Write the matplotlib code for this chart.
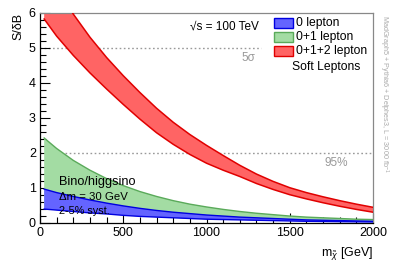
import matplotlib
matplotlib.use("Agg")
import matplotlib.pyplot as plt
from matplotlib.patches import Rectangle
from matplotlib.ticker import MultipleLocator

plt.rcParams['font.family'] = ['Liberation Sans', 'DejaVu Sans']
plt.rcParams['mathtext.fontset'] = 'custom'
plt.rcParams['mathtext.rm'] = 'Liberation Sans'
plt.rcParams['mathtext.it'] = 'Liberation Sans:italic'

# ---- data ----
mass = [25, 100, 200, 300, 400, 500, 600, 700, 800, 900, 1000,
        1100, 1200, 1300, 1400, 1500, 1600, 1700, 1800, 1900, 2000]

red_upper = [7.3, 6.65, 5.96, 5.3, 4.72, 4.2, 3.72, 3.27, 2.87, 2.52, 2.21,
             1.92, 1.64, 1.39, 1.18, 1.0, 0.86, 0.74, 0.63, 0.53, 0.44]
red_lower = [5.82, 5.33, 4.78, 4.28, 3.82, 3.38, 2.96, 2.57, 2.24, 1.95, 1.7,
             1.5, 1.32, 1.12, 0.95, 0.8, 0.68, 0.57, 0.47, 0.38, 0.30]

green_upper = [2.42, 2.12, 1.78, 1.5, 1.26, 1.06, 0.89, 0.75, 0.63, 0.53, 0.45,
               0.38, 0.32, 0.27, 0.23, 0.19, 0.16, 0.14, 0.12, 0.10, 0.09]
blue_upper = [0.96, 0.86, 0.75, 0.65, 0.56, 0.48, 0.41, 0.35, 0.30, 0.26, 0.22,
              0.19, 0.16, 0.14, 0.12, 0.10, 0.08, 0.07, 0.06, 0.05, 0.04]
blue_lower = [0.39, 0.36, 0.32, 0.28, 0.25, 0.21, 0.18, 0.16, 0.14, 0.12, 0.10,
              0.09, 0.08, 0.07, 0.06, 0.05, 0.04, 0.035, 0.03, 0.025, 0.02]

legend_labels = ['0 lepton', '0+1 lepton', '0+1+2 lepton']
sigma5_level = 5
sigma5_end = 1330
cl95_level = 2

# ---- figure ----
W, H = 394, 267
fig = plt.figure(figsize=(W / 100, H / 100), dpi=100)
def fx(x): return x / W
def fy(y): return 1 - y / H

ax = fig.add_axes([fx(40), fy(222.7), fx(373) - fx(40), fy(12.7) - fy(222.7)])
ax.set_xlim(0, 2000)
ax.set_ylim(0, 6)

c_red_f, c_red_e = '#ff6464', '#e00000'
c_grn_f, c_grn_e = '#a3dca3', '#5aaa5a'
c_blu_f, c_blu_e = '#6464ff', '#0000e0'

# bands
ax.fill_between(mass, red_lower, red_upper, facecolor=c_red_f, edgecolor='none', zorder=2)
ax.plot(mass, red_upper, color=c_red_e, lw=1.1, zorder=3)
ax.plot(mass, red_lower, color=c_red_e, lw=1.1, zorder=3)

ax.fill_between(mass, blue_lower, green_upper, facecolor=c_grn_f, edgecolor='none', zorder=2)
ax.plot(mass, green_upper, color=c_grn_e, lw=1.0, zorder=3)

ax.fill_between(mass, blue_lower, blue_upper, facecolor=c_blu_f, edgecolor='none', zorder=4)
ax.plot(mass, blue_upper, color=c_blu_e, lw=1.0, zorder=5)
ax.plot(mass, blue_lower, color=c_blu_e, lw=1.0, zorder=5)

# reference lines
ax.plot([0, sigma5_end], [sigma5_level, sigma5_level], color='#999999', lw=1.0,
        ls=(0, (1.2, 1.8)), zorder=1)
ax.plot([0, 2000], [cl95_level, cl95_level], color='#999999', lw=1.0,
        ls=(0, (1.2, 1.8)), zorder=1)

# axes style
for s in ['top', 'right']:
    ax.spines[s].set_color('#888888')
for s in ['left', 'bottom']:
    ax.spines[s].set_color('black')
for s in ax.spines.values():
    s.set_linewidth(0.9)
ax.xaxis.set_major_locator(MultipleLocator(500))
ax.xaxis.set_minor_locator(MultipleLocator(100))
ax.yaxis.set_major_locator(MultipleLocator(1))
ax.yaxis.set_minor_locator(MultipleLocator(0.2))
ax.tick_params(which='both', direction='in', top=False, right=False, labelsize=9)
ax.tick_params(which='major', length=7, width=0.8)
ax.tick_params(which='minor', length=4, width=0.8)
ax.tick_params(axis='y', pad=3)
ax.tick_params(axis='x', pad=3)

# axis titles
fig.text(fx(373), fy(253), r'm$_{\tilde{\chi}}$ [GeV]', ha='right', va='center', fontsize=9)
fig.text(fx(18), fy(12.5), 'S/δB', rotation=90, ha='center', va='top', fontsize=9)

# annotations
fig.text(fx(190), fy(27), '√s = 100 TeV', ha='left', va='center', fontsize=8.5)
fig.text(fx(255), fy(58), '5σ', ha='right', va='center', fontsize=8.5, color='#999999')
fig.text(fx(348), fy(163), '95%', ha='right', va='center', fontsize=8.5, color='#999999')
fig.text(fx(59), fy(182), 'Bino/higgsino', ha='left', va='center', fontsize=9.2)
fig.text(fx(59), fy(197), 'Δm = 30 GeV', ha='left', va='center', fontsize=8.2)
fig.text(fx(59), fy(210.5), '2-5% syst.', ha='left', va='center', fontsize=7.8)
fig.text(fx(384), fy(15), 'MadGraph5 + Pythia6 + Delphes3, L = 3000 fb$^{-1}$',
         rotation=-90, ha='center', va='top', fontsize=5.2, color='#aaaaaa')

# legend (manual)
rows_y = [23, 37, 51]
fills = [c_blu_f, c_grn_f, c_red_f]
edges = [c_blu_e, c_grn_e, c_red_e]
for yy, lab, fc, ec in zip(rows_y, legend_labels, fills, edges):
    r = Rectangle((fx(274), fy(yy + 5)), fx(292.5) - fx(274), fy(yy - 5) - fy(yy + 5),
                  transform=fig.transFigure, facecolor=fc, edgecolor=ec, lw=1.0)
    fig.patches.append(r)
    fig.text(fx(296.5), fy(yy), lab, ha='left', va='center', fontsize=8.7)
fig.text(fx(291.5), fy(67), 'Soft Leptons', ha='left', va='center', fontsize=8.7)

fig.savefig('out.png', dpi=100)
